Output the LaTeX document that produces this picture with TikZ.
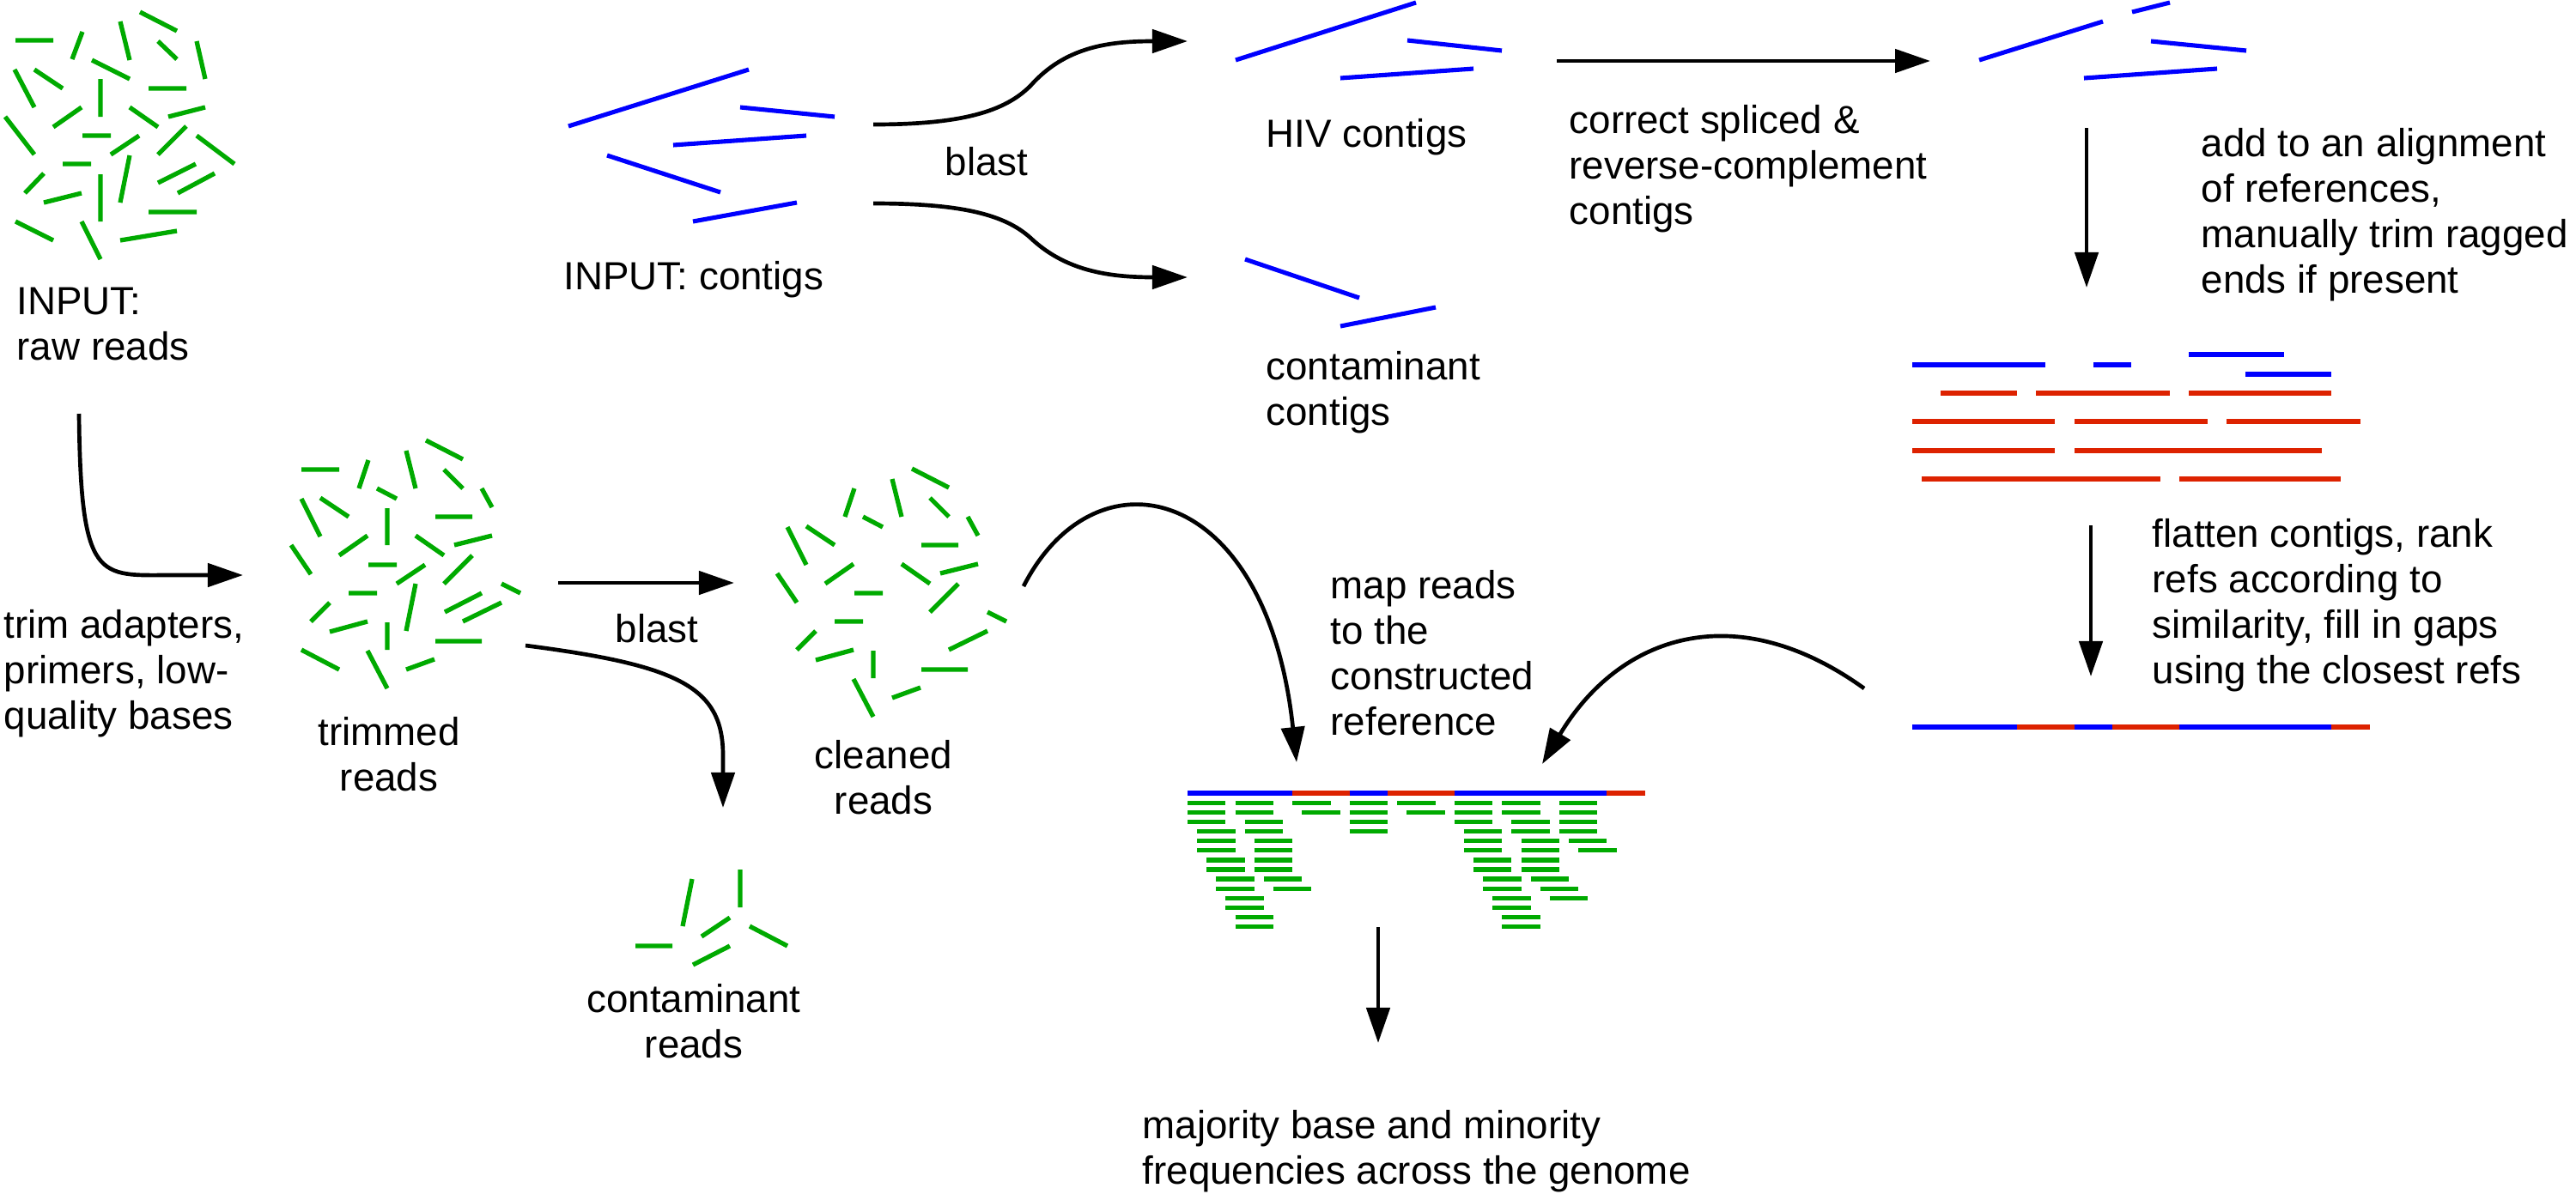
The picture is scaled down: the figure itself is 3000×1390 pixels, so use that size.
\documentclass[tikz,border=0pt]{standalone}
\usepackage{fontspec}
\setmainfont{Liberation Sans}
\usetikzlibrary{arrows.meta}
\definecolor{readgreen}{RGB}{0,170,0}
\definecolor{hivblue}{RGB}{0,0,255}
\definecolor{refred}{RGB}{221,34,0}
\tikzset{
  greenread/.style={readgreen, line width=1.5pt},
  contig/.style={hivblue, line width=1.45pt},
  bar/.style={line width=1.5pt},
  flow/.style={line width=1.33pt, -{Triangle[length=0.41cm,width=0.27cm]}},
  lbl/.style={font=\fontsize{13}{15}\selectfont, inner sep=0pt, align=left, anchor=base west},
  clbl/.style={font=\fontsize{13}{15}\selectfont, inner sep=0pt, align=center, anchor=base}
}
\begin{document}
\begin{tikzpicture}[x=0.01cm, y=-0.01cm]
\useasboundingbox (0,0) rectangle (3000,1390);

% raw reads
\draw[greenread] (18,47)--(62,47) (96,37)--(84,69) (140,25)--(151,70) (163,14)--(206,36)
 (184,48)--(206,69) (229,48)--(239,92) (107,70)--(151,92) (40,81)--(73,103)
 (17,81)--(40,125) (117,92)--(117,136) (173,103)--(217,103) (95,125)--(62,148)
 (151,125)--(184,148) (196,136)--(239,125) (6,136)--(40,180) (96,158)--(129,158)
 (162,158)--(129,180) (217,147)--(184,180) (229,158)--(273,191) (73,191)--(106,191)
 (51,202)--(29,225) (117,203)--(117,258) (151,181)--(140,236) (184,213)--(228,191)
 (207,225)--(250,202) (51,236)--(95,225) (173,247)--(229,247) (18,258)--(62,280)
 (95,258)--(117,302) (140,280)--(206,269);

% trimmed reads
\draw[greenread] (351,547)--(395,547) (429,536)--(418,569) (473,525)--(484,569) (496,513)--(539,535)
 (517,547)--(539,569) (561,569)--(573,591) (439,569)--(462,581) (373,580)--(406,602)
 (351,581)--(373,625) (451,592)--(451,635) (507,602)--(550,602) (428,624)--(395,647)
 (484,624)--(517,647) (529,635)--(573,624) (339,635)--(362,669) (429,658)--(462,658)
 (495,658)--(462,680) (550,647)--(517,680) (584,680)--(606,691) (406,691)--(439,691)
 (384,702)--(362,724) (451,725)--(451,757) (484,680)--(473,735) (518,713)--(561,691)
 (539,724)--(584,702) (384,736)--(428,724) (507,747)--(561,747) (351,757)--(395,780)
 (428,758)--(451,802) (473,780)--(506,768);

% cleaned reads
\draw[greenread] (995,569)--(984,602) (1039,558)--(1050,602) (1062,546)--(1105,568)
 (1083,580)--(1105,602) (1127,602)--(1139,624) (1005,602)--(1028,614) (939,613)--(972,635)
 (917,614)--(939,658) (1073,635)--(1116,635) (994,657)--(961,680) (1050,657)--(1083,680)
 (1095,668)--(1139,657) (905,668)--(928,702) (995,691)--(1028,691) (1116,680)--(1083,713)
 (1150,713)--(1172,724) (972,724)--(1005,724) (950,735)--(928,757) (1017,758)--(1017,790)
 (1105,757)--(1150,735) (950,769)--(994,757) (1073,780)--(1127,780) (994,791)--(1017,835)
 (1039,813)--(1072,801);

% contaminant reads
\draw[greenread] (740,1102)--(783,1102) (806,1024)--(795,1079) (862,1013)--(862,1057)
 (850,1069)--(817,1091) (873,1079)--(917,1102) (807,1124)--(850,1102);

% input contigs
\draw[contig] (662,147)--(872,81) (862,125)--(972,136) (784,169)--(939,158)
 (707,181)--(839,224) (807,258)--(928,236);
% HIV contigs
\draw[contig] (1439,70)--(1649,3) (1639,47)--(1749,59) (1561,91)--(1716,80);
% contaminant contigs
\draw[contig] (1450,302)--(1583,347) (1561,380)--(1672,358);
% corrected contigs
\draw[contig] (2305,70)--(2449,25) (2483,14)--(2527,3) (2505,48)--(2616,59) (2427,91)--(2582,80);

% alignment of references
\draw[bar, hivblue] (2227,425)--(2382,425) (2438,425)--(2482,425) (2549,413)--(2660,413) (2615,436)--(2715,436);
\draw[bar, refred] (2260,458)--(2349,458) (2371,458)--(2527,458) (2549,458)--(2715,458)
 (2227,491)--(2393,491) (2416,491)--(2571,491) (2593,491)--(2749,491)
 (2227,525)--(2393,525) (2416,525)--(2704,525)
 (2238,558)--(2516,558) (2538,558)--(2726,558);

% flattened reference
\foreach \a/\b/\c in {0/11/hivblue, 11/17/refred, 17/21/hivblue, 21/28/refred, 28/44/hivblue, 44/48/refred}{
  \draw[bar, \c] ({2227+11.1*\a},847) -- ({2227+11.1*\b},847);
}

% mapped reference and reads
\foreach \a/\b/\c in {0/11/hivblue, 11/17/refred, 17/21/hivblue, 21/28/refred, 28/44/hivblue, 44/48/refred}{
  \draw[bar, \c] ({1383+11.1*\a},924) -- ({1383+11.1*\b},924);
}
\foreach \r/\ks in {1/{0,5,11,17,22,28,33,39}, 2/{0,5,12,17,23,28,33,39}, 3/{0,6,17,28,34,39},
  4/{1,6,17,29,34,39}, 5/{1,7,29,35,40}, 6/{1,7,29,35,41}, 7/{2,7,30,35}, 8/{2,7,30,35},
  9/{3,8,31,36}, 10/{3,9,31,37}, 11/{4,32,38}, 12/{4,32}, 13/{5,33}, 14/{5,33}}{
  \foreach \k in \ks {
    \draw[bar, readgreen] ({1383+11.1*\k},{935.3+11.1*(\r-1)}) -- ++(44.4,0);
  }
}

% labels (base anchor = baseline of the last line)
\node[lbl] (rawlbl) at (19,419) {INPUT:\\raw reads};
\node[lbl] (contiglbl) at (656,337) {INPUT: contigs};
\node[clbl] (blasttop) at (1149,204) {blast};
\node[lbl] (hivlbl) at (1474,171) {HIV contigs};
\node[lbl] (ccontiglbl) at (1474,495) {contaminant\\contigs};
\node[lbl] (correctlbl) at (1827,261) {correct spliced \&\\reverse-complement\\contigs};
\node[lbl] (addlbl) at (2563,341) {add to an alignment\\of references,\\manually trim ragged\\ends if present};
\node[lbl] (flattenlbl) at (2506,796) {flatten contigs, rank\\refs according to\\similarity, fill in gaps\\using the closest refs};
\node[lbl] (trimlbl) at (4,849) {trim adapters,\\primers, low-\\quality bases};
\node[clbl] (trimmedlbl) at (453,921) {trimmed\\reads};
\node[clbl] (blastlow) at (765,748) {blast};
\node[clbl] (cleanedlbl) at (1029,948) {cleaned\\reads};
\node[clbl] (creadslbl) at (808,1232) {contaminant\\reads};
\node[lbl] (maplbl) at (1549,856) {map reads\\to the\\constructed\\reference};
\node[lbl] (majlbl) at (1330,1379) {majority base and minority\\frequencies across the genome};

% connector end points
\coordinate (raw-out) at (92,482);
\coordinate (trim-in) at (283,670);
\coordinate (trim-out) at (650,679);
\coordinate (clean-in) at (855,679);
\coordinate (trim-out2) at (612,752);
\coordinate (cont-in) at (842,941);
\coordinate (clean-out) at (1192,683);
\coordinate (map-in1) at (1510,888);
\coordinate (flat-out) at (2171,802);
\coordinate (map-in2) at (1796,890);
\coordinate (map-out) at (1605,1080);
\coordinate (maj-in) at (1605,1215);
\coordinate (contig-out1) at (1017,145);
\coordinate (hiv-in) at (1383,48);
\coordinate (contig-out2) at (1017,237);
\coordinate (ccont-in) at (1383,323);
\coordinate (hiv-out) at (1813,71);
\coordinate (corr-in) at (2248,71);
\coordinate (corr-out) at (2430,149);
\coordinate (aln-in) at (2430,335);
\coordinate (aln-out) at (2435,612);
\coordinate (flat-in) at (2435,788);

% connectors
\draw[flow] (raw-out) .. controls (94,680) and (115,670) .. (200,670) -- (trim-in);
\draw[flow] (trim-out) -- (clean-in);
\draw[flow] (trim-out2) .. controls (790,775) and (842,800) .. (842,880) -- (cont-in);
\draw[flow] (clean-out) .. controls (1275,520) and (1475,560) .. (map-in1);
\draw[flow] (flat-out) .. controls (2021,694) and (1886,740) .. (map-in2);
\draw[flow] (map-out) -- (maj-in);
\draw[flow] (contig-out1) .. controls (1120,145) and (1170,130) .. (1200,100)
  .. controls (1240,55) and (1290,48) .. (hiv-in);
\draw[flow] (contig-out2) .. controls (1120,237) and (1170,250) .. (1200,277)
  .. controls (1240,315) and (1290,323) .. (ccont-in);
\draw[flow] (hiv-out) -- (corr-in);
\draw[flow] (corr-out) -- (aln-in);
\draw[flow] (aln-out) -- (flat-in);
\end{tikzpicture}
\end{document}
